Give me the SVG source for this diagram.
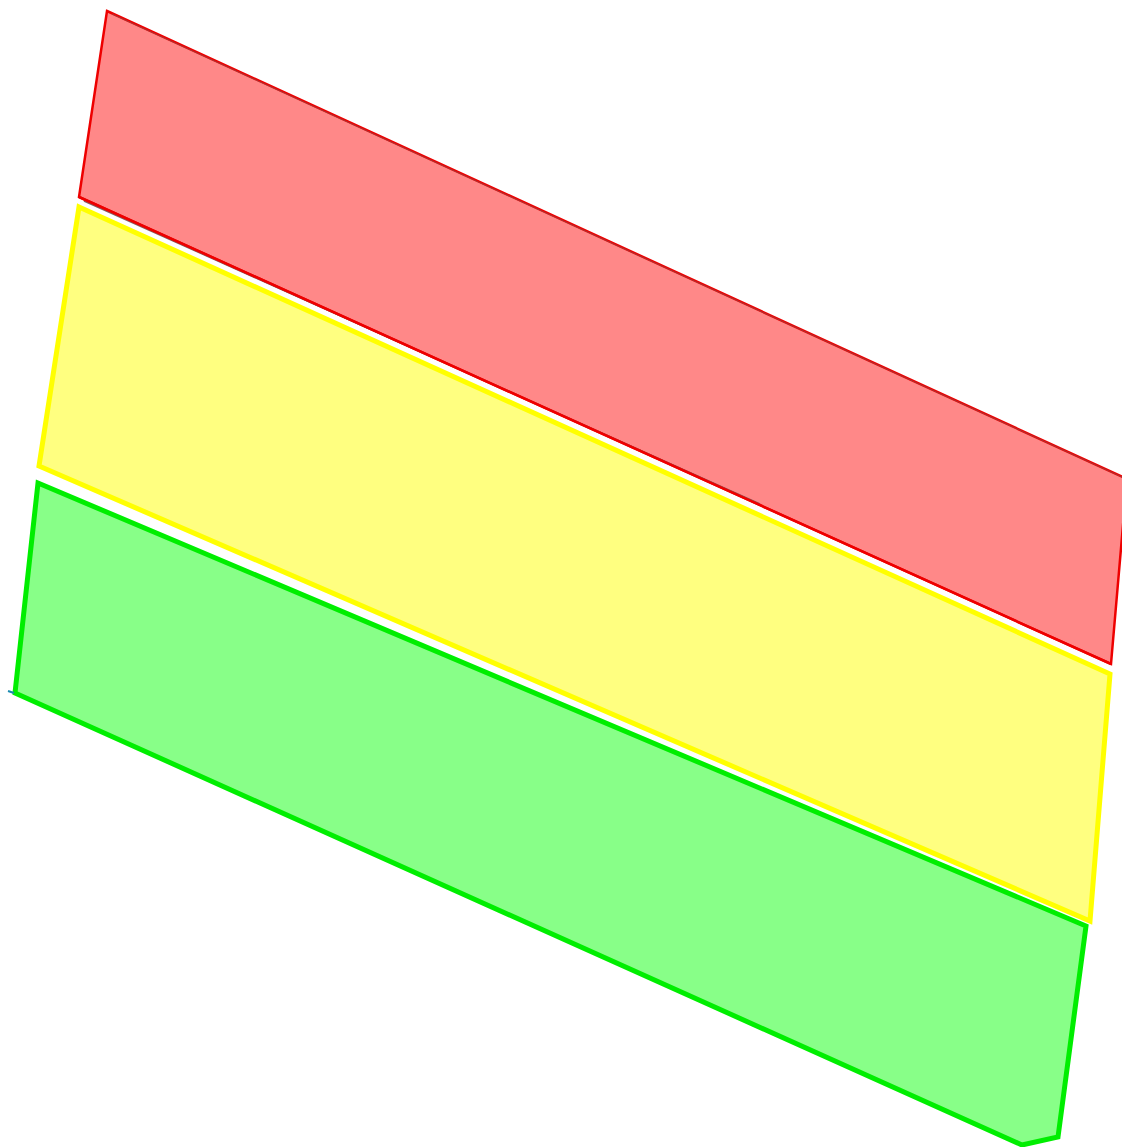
<svg xmlns="http://www.w3.org/2000/svg" width="1122" height="1147" viewBox="0 0 1122 1147">
<style>
.red{fill:#ff8888;stroke:#ee0000;stroke-width:2.5;stroke-linejoin:miter}
.yel{fill:#ffff80;stroke:#ffff00;stroke-width:5;stroke-linejoin:miter}
.grn{fill:#88ff88;stroke:#00ee00;stroke-width:5;stroke-linejoin:miter}
</style>
<rect width="1122" height="1147" fill="#ffffff"/>
<g id="red-zone">
<polygon class="red" points="107,11 1127,479 1111,664 79,197"/>
<line x1="112" y1="14" x2="1122" y2="477" stroke="#7a5a5a" stroke-width="1" opacity="0.6"/>
<line x1="84" y1="201" x2="760" y2="504" stroke="#806060" stroke-width="1.5"/>
<line x1="79" y1="197" x2="1111" y2="664" stroke="#ee0000" stroke-width="2.5"/>
</g>
<g id="yellow-zone">
<polygon class="yel" points="79,207 1110,674 1090,921 39,466"/>
</g>
<g id="green-zone">
<polygon class="grn" points="38,483 1086,926 1058,1137 1022,1145 15,693"/>
<line x1="8" y1="691" x2="14" y2="693" stroke="#1a8ab0" stroke-width="2"/>
</g>
</svg>
